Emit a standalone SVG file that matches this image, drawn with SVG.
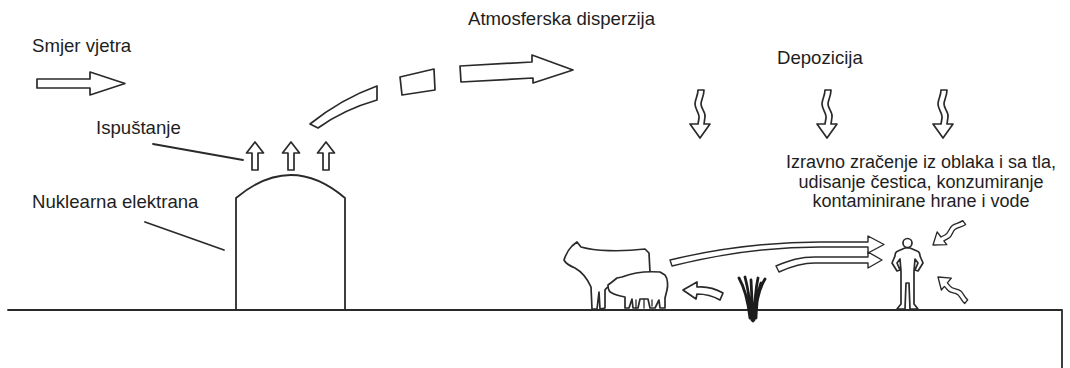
<svg xmlns="http://www.w3.org/2000/svg" xmlns:xlink="http://www.w3.org/1999/xlink" width="1070" height="368" viewBox="0 0 1070 368">
  <style>
    .lbl { font-family: "Liberation Sans", Arial, sans-serif; font-size: 18.6px; fill: #1e1e1e; }
    .ctr { text-anchor: middle; font-size: 18px; }
    .ln { fill: none; stroke: #2a2a2a; stroke-width: 1.8; stroke-linecap: round; stroke-linejoin: round; }
    .shape { fill: #ffffff; stroke: #2a2a2a; stroke-width: 1.7; stroke-linejoin: round; }
    .thin { fill: #ffffff; stroke: #2a2a2a; stroke-width: 1.4; stroke-linejoin: round; }
    .grass { fill: none; stroke: #1c1c1c; stroke-width: 2.8; stroke-linecap: round; }
  </style>
  <defs>
    <!-- hollow arrow pointing up, tip at origin -->
    <path id="upArrow" class="shape" d="M 0,0 L 8.5,11 L 3,11 L 3,28 L -3,28 L -3,11 L -8.5,11 Z"/>
    <!-- wavy hollow arrow pointing down, tip at origin -->
    <path id="wavyArrow" class="shape" d="M -2,-48 L 4,-48 C 4,-42 1,-38 1,-34 C 1,-29 6,-26 5,-21 L 4,-14 L 10,-14 L 0,0 L -10,-14 L -2,-14 L -1,-20 C 0,-24 -5,-29 -5,-34 C -5,-39 -2,-42 -2,-48 Z"/>
  </defs>

  <!-- ground -->
  <g id="ground">
    <path class="ln" d="M 8,310 L 1062,310 L 1062,368"/>
  </g>

  <!-- wind direction -->
  <g id="wind">
    <text class="lbl" x="32" y="52">Smjer vjetra</text>
    <path class="shape" d="M 37,79 L 90,79 L 90,72 L 125,83.5 L 90,95 L 90,88 L 37,88 Z"/>
  </g>

  <!-- power plant -->
  <g id="plant">
    <text class="lbl" x="32" y="208">Nuklearna elektrana</text>
    <path class="ln" d="M 236,309 L 236,198 Q 291,152 345,198 L 345,309"/>
  </g>

  <!-- release -->
  <g id="release">
    <text class="lbl" x="96" y="134">Ispuštanje</text>
    <use xlink:href="#upArrow" transform="translate(255,142)"/>
    <use xlink:href="#upArrow" transform="translate(291,142)"/>
    <use xlink:href="#upArrow" transform="translate(326,142)"/>
  </g>

  <!-- atmospheric dispersion -->
  <g id="dispersion">
    <text class="lbl" x="468" y="25">Atmosferska disperzija</text>
    <path class="shape" d="M 310,124 C 330,108 352,95 377,86 L 377,100 C 356,106 336,115 318,128 Z"/>
    <path class="shape" d="M 400,77 L 434,69 L 435,90 L 402,95 Z"/>
    <path class="shape" d="M 460,66 L 532,62 L 532,55 L 573,70 L 533,83 L 533,78 L 461,82 Z"/>
  </g>

  <!-- deposition -->
  <g id="deposition">
    <text class="lbl" x="777" y="64">Depozicija</text>
    <use xlink:href="#wavyArrow" transform="translate(700,138)"/>
    <use xlink:href="#wavyArrow" transform="translate(827,138)"/>
    <use xlink:href="#wavyArrow" transform="translate(943,138)"/>
  </g>

  <!-- exposure pathways -->
  <g id="exposure">
    <text class="lbl ctr" x="921" y="168">Izravno zračenje iz oblaka i sa tla,</text>
    <text class="lbl ctr" x="921" y="188">udisanje čestica, konzumiranje</text>
    <text class="lbl ctr" x="921" y="207">kontaminirane hrane i vode</text>
    <use xlink:href="#wavyArrow" transform="translate(933,245) rotate(53) scale(0.8)"/>
    <use xlink:href="#wavyArrow" transform="translate(938,277) rotate(130) scale(0.78)"/>
  </g>

  <!-- livestock -->
  <g id="cow">
    <path class="shape" d="M 564,260 C 566,254 569,249 572,246 L 577,242 L 581,247 C 595,251 620,252 645,249 L 649,253 L 650,272 L 612,285 C 607,287 606,288 605,290 L 605,308 L 600,309 L 599,292 L 597,309 L 592,309 L 591,287 C 588,280 582,272 575,268 C 570,266 566,264 564,260 Z"/>
  </g>
  <g id="pig">
    <path class="shape" d="M 608,285 L 612,282 L 617,278 L 622,277 C 632,273 645,271 660,272 L 665,275 C 668,279 668,286 667,290 L 665,298 L 665,308 L 660,308 L 659,300 L 655,308 L 650,308 L 648,299 L 640,299 L 638,308 L 633,308 L 632,299 L 629,308 L 625,308 L 625,297 C 620,296 615,295 612,293 C 609,292 608,289 608,285 Z"/>
    <path class="ln" d="M 636,300 L 636,308 M 644,299 L 644,308 M 652,300 L 652,306" style="stroke-width:1.3"/>
  </g>

  <!-- vegetation -->
  <g id="grass">
    <path class="grass" d="M 739,278 Q 747,292 750,318 M 745,277 Q 749,292 752,320 M 751,280 L 753,321 M 758,278 Q 755,292 754,320 M 765,279 Q 757,292 755,318 M 761,283 Q 757,293 756,318"/>
  </g>

  <!-- person -->
  <g id="person">
    <circle class="shape" cx="907.5" cy="243" r="4.5"/>
    <path class="shape" d="M 905,248 L 898,251 Q 895,252 895,256 L 892,263 L 897,271 L 900,270 L 897,263 L 900,259 L 901,271 L 901,304 L 897,309 L 905,309 L 906,283 L 909,283 L 910,309 L 918,309 L 914,304 L 914,271 L 915,259 L 918,263 L 915,270 L 918,271 L 923,263 L 920,256 Q 920,252 917,251 L 910,248 Z"/>
  </g>

  <!-- transfer arrows -->
  <g id="connectors">
    <path class="thin" d="M 670,260 C 720,248 770,242 820,242 L 868,242 L 868,236 L 884,244.5 L 868,253 L 868,247 L 820,247 C 772,247 724,253 672,266 Z"/>
    <path class="thin" d="M 776,266 C 790,260 800,257 815,257 L 868,257 L 868,252 L 882,260 L 868,268 L 868,263 L 815,263 C 802,263 792,266 779,272 Z"/>
    <path class="shape" d="M 683,290 L 697,282 L 697,287 C 707,286 716,289 723,293 L 720,300 C 713,296 705,294 697,294 L 696,299 Z"/>
    <path class="ln" d="M 153,144 L 243,160"/>
    <path class="ln" d="M 145,222 L 224,250"/>
  </g>
</svg>
